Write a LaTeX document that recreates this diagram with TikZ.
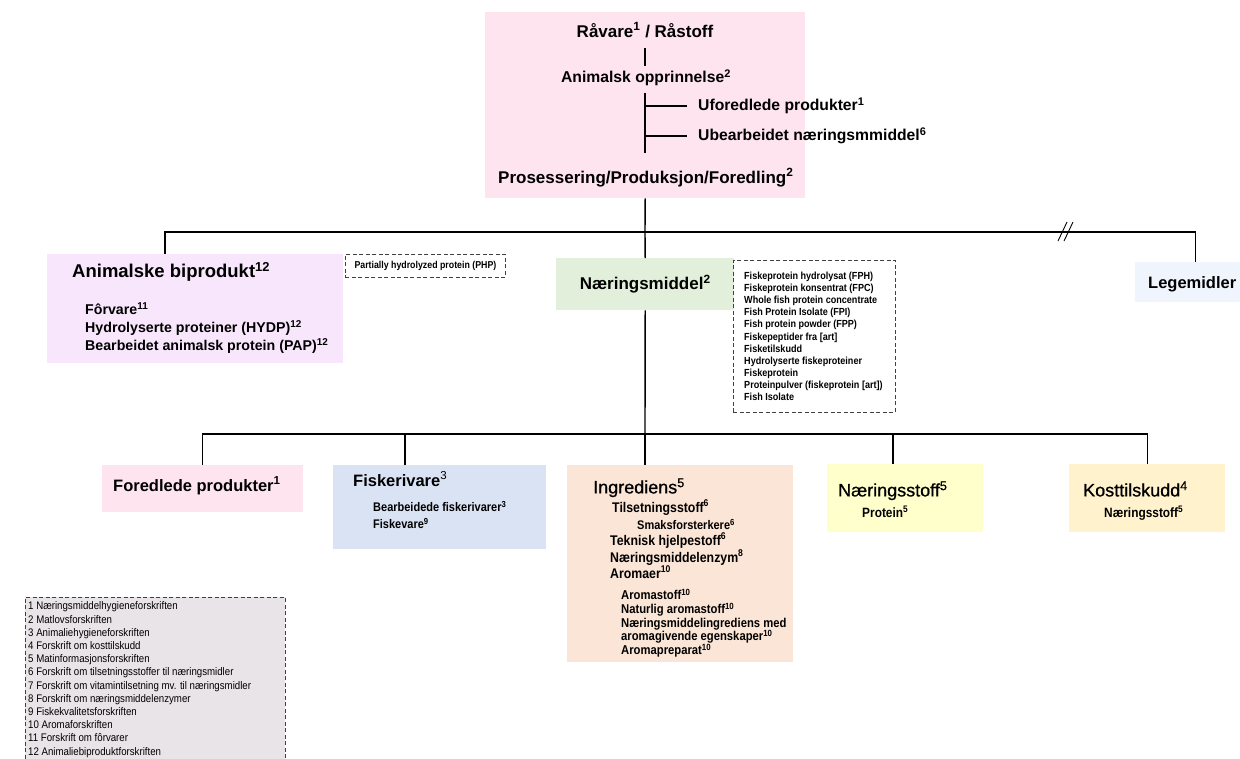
\documentclass[tikz,border=0pt]{standalone}
\usepackage{fontspec}
\setmainfont{Liberation Sans}
\newfontfamily\narrowsf[FakeStretch=0.88]{Liberation Sans}
\newfontfamily\mediumsf[FakeBold=0.8]{Liberation Sans}
\usetikzlibrary{positioning}
\definecolor{rawpink}{HTML}{FDE4EE}
\definecolor{animlilac}{HTML}{F8E7FC}
\definecolor{nmgreen}{HTML}{E2EFDA}
\definecolor{medblue}{HTML}{F0F4FC}
\definecolor{fiskblue}{HTML}{DAE3F3}
\definecolor{ingrpeach}{HTML}{FBE5D6}
\definecolor{stoffyellow}{HTML}{FFFFCC}
\definecolor{kostcream}{HTML}{FFF2CC}
\definecolor{notegray}{HTML}{E9E4E8}
\newcommand{\fz}[1]{\fontsize{#1}{#1}\selectfont}
\tikzset{
	link/.style={line width=1.4pt},
	fillbox/.style={anchor=north west, inner sep=0pt},
	dashbox/.style={draw=black!75, line width=0.8pt, dash pattern=on 4pt off 2.5pt},
	txt/.style={inner sep=0pt, anchor=base west},
	hdb/.style={txt, font=\bfseries\fz{#1}},
	hdr/.style={txt, font=\mediumsf\fz{#1}},
	nrb/.style={txt, font=\narrowsf\bfseries\fz{#1}},
	nrr/.style={txt, font=\narrowsf\fz{#1}},
}
\begin{document}
\begin{tikzpicture}[x=1pt,y=-1pt]
	\useasboundingbox (0,0) rectangle (1240,758);
	\clip (0,0) rectangle (1240,758);
	% boxes
	\node[fillbox, fill=rawpink, minimum width=320pt, minimum height=186pt] (raw) at (485,12) {};
	\node[fillbox, fill=animlilac, minimum width=296pt, minimum height=109pt] (anim) at (47,254) {};
	\node[fillbox, dashbox, minimum width=160pt, minimum height=23pt, font=\narrowsf\bfseries\fz{10}] (php) at (345,254) {Partially hydrolyzed protein (PHP)};
	\node[fillbox, fill=nmgreen, minimum width=178pt, minimum height=52pt, font=\bfseries\fz{17}] (nm) at (556,258) {Næringsmiddel\textsuperscript{2}};
	\node[fillbox, dashbox, minimum width=162pt, minimum height=152pt] (fph) at (733,260) {};
	\node[fillbox, fill=medblue, minimum width=120pt, minimum height=40pt] (leg) at (1135,262) {};
	\node[fillbox, fill=rawpink, minimum width=201pt, minimum height=47pt] (fored) at (102,465) {};
	\node[fillbox, fill=fiskblue, minimum width=213pt, minimum height=84pt] (fisk) at (333,465) {};
	\node[fillbox, fill=ingrpeach, minimum width=226pt, minimum height=197pt] (ingr) at (567,465) {};
	\node[fillbox, fill=stoffyellow, minimum width=156pt, minimum height=68pt] (nstoff) at (827,464) {};
	\node[fillbox, fill=kostcream, minimum width=156pt, minimum height=68pt] (kost) at (1069,464) {};
	\node[fillbox, dashbox, fill=notegray, minimum width=260pt, minimum height=200pt] (notes) at (25,597) {};

	% top box
	\node[hdb=17, anchor=base] (raavare) at (645,37) {Råvare\textsuperscript{1} / Råstoff};
	\node[hdb=15.7, anchor=base] (animalsk) at (646,82.7) {Animalsk opprinnelse\textsuperscript{2}};
	\node[hdb=15.7] (ufor) at (698,110.6) {Uforedlede produkter\textsuperscript{1}};
	\node[hdb=15.7] (ubearb) at (698,140.6) {Ubearbeidet næringsmmiddel\textsuperscript{6}};
	\node[hdb=17] (prosess) at (498,183) {Prosessering/Produksjon/Foredling\textsuperscript{2}};
	\draw[link, shorten <=10.5pt, shorten >=4pt] (raavare.south) -- (animalsk.north -| raavare.south);
	\draw[link, shorten <=7pt, shorten >=15.5pt] (animalsk.south -| raavare.south) -- (prosess.north -| raavare.south);
	\draw[link, shorten <=11pt] (ufor.west) -- (ufor.west -| raavare.south);
	\draw[link, shorten <=11pt] (ubearb.west) -- (ubearb.west -| raavare.south);

	% middle row
	\node[hdb=18.5] (animhd) at (72,277.6) {Animalske biprodukt\textsuperscript{12}};
	\node[hdb=14.2] (forvare) at (85,314.4) {Fôrvare\textsuperscript{11}};
	\node[hdb=14.2] (hydp) at (85,332.4) {Hydrolyserte proteiner (HYDP)\textsuperscript{12}};
	\node[hdb=14.2] (pap) at (85,350.4) {Bearbeidet animalsk protein (PAP)\textsuperscript{12}};
	\foreach \t [count=\i] in {Fiskeprotein hydrolysat (FPH), Fiskeprotein konsentrat (FPC),
		Whole fish protein concentrate, Fish Protein Isolate (FPI), Fish protein powder (FPP),
		{Fiskepeptider fra [art]}, Fisketilskudd, Hydrolyserte fiskeproteiner, Fiskeprotein,
		{Proteinpulver (fiskeprotein [art])}, Fish Isolate}
		\node[nrb=10.3] (fph\i) at ({744},{279.7+12.07*(\i-1)}) {\t};
	\node[hdb=16.5] (leghd) at (1148,288) {Legemidler};

	% bottom row
	\node[hdb=16.5] (foredhd) at (113,491) {Foredlede produkter\textsuperscript{1}};
	\node[hdb=16.5] (fiskhd) at (353,486) {Fiskerivare\textsuperscript{\mdseries 3}};
	\node[nrb=12.5] (bfisk) at (373,511.5) {Bearbeidede fiskerivarer\textsuperscript{3}};
	\node[nrb=12.5] (fvare) at (373,528.5) {Fiskevare\textsuperscript{9}};
	\node[hdr=18] (ingrhd) at (593,493.4) {Ingrediens\textsuperscript{5}};
	\node[nrb=14] (tilset) at (612,512) {Tilsetningsstoff\textsuperscript{6}};
	\node[nrb=12.5] (smak) at (637,529.5) {Smaksforsterkere\textsuperscript{6}};
	\node[nrb=14] (teknisk) at (610,545) {Teknisk hjelpestoff\textsuperscript{6}};
	\node[nrb=14] (enzym) at (610,562) {Næringsmiddelenzym\textsuperscript{8}};
	\node[nrb=14] (aroma) at (610,578) {Aromaer\textsuperscript{10}};
	\foreach \t [count=\i] in {Aromastoff\textsuperscript{10}, Naturlig aromastoff\textsuperscript{10},
		Næringsmiddelingrediens med, aromagivende egenskaper\textsuperscript{10}, Aromapreparat\textsuperscript{10}}
		\node[nrb=12.8] (arom\i) at ({621},{599.6+13.75*(\i-1)}) {\t};
	\node[hdr=18] (nstoffhd) at (838,496.4) {Næringsstoff\textsuperscript{5}};
	\node[nrb=13.5] (protein) at (862,517.8) {Protein\textsuperscript{5}};
	\node[hdr=18] (kosthd) at (1083,496.4) {Kosttilskudd\textsuperscript{4}};
	\node[nrb=13.5] (kostsub) at (1104,517.8) {Næringsstoff\textsuperscript{5}};

	% notes
	\foreach \t [count=\i] in {Næringsmiddelhygieneforskriften, Matlovsforskriften,
		Animaliehygieneforskriften, Forskrift om kosttilskudd, Matinformasjonsforskriften,
		Forskrift om tilsetningsstoffer til næringsmidler,
		Forskrift om vitamintilsetning mv. til næringsmidler,
		Forskrift om næringsmiddelenzymer, Fiskekvalitetsforskriften, Aromaforskriften,
		Forskrift om fôrvarer, Animaliebiproduktforskriften}
		\node[nrr=11] (note\i) at ({28},{609.9+13.2*(\i-1)}) {\i\ \t};

	% connectors
	\coordinate (bus1) at (645,232);
	\coordinate (bus2) at (645,434);
	\draw[link] (raw.south) -- (bus1);
	\draw[link] ([xshift=118pt]anim.north west) |- (bus1) -| (leg.north);
	\draw[link] (bus1) -- (nm.north);
	\draw[link] (nm.south) -- (bus2);
	\draw[link] (fored.north) |- (bus2) -| (kost.north);
	\draw[link] ([xshift=72pt]fisk.north west) |- (bus2);
	\draw[link] (bus2) -- (bus2 |- ingr.north);
	\draw[link] ([xshift=66pt]nstoff.north west) |- (bus2);
	\coordinate (brk) at (1066,232);
	\draw[line width=0.9pt] ([xshift=-8pt,yshift=-9pt]brk) -- ++(9,-19);
	\draw[line width=0.9pt] ([xshift=-2pt,yshift=-9pt]brk) -- ++(9,-19);
\end{tikzpicture}
\end{document}
